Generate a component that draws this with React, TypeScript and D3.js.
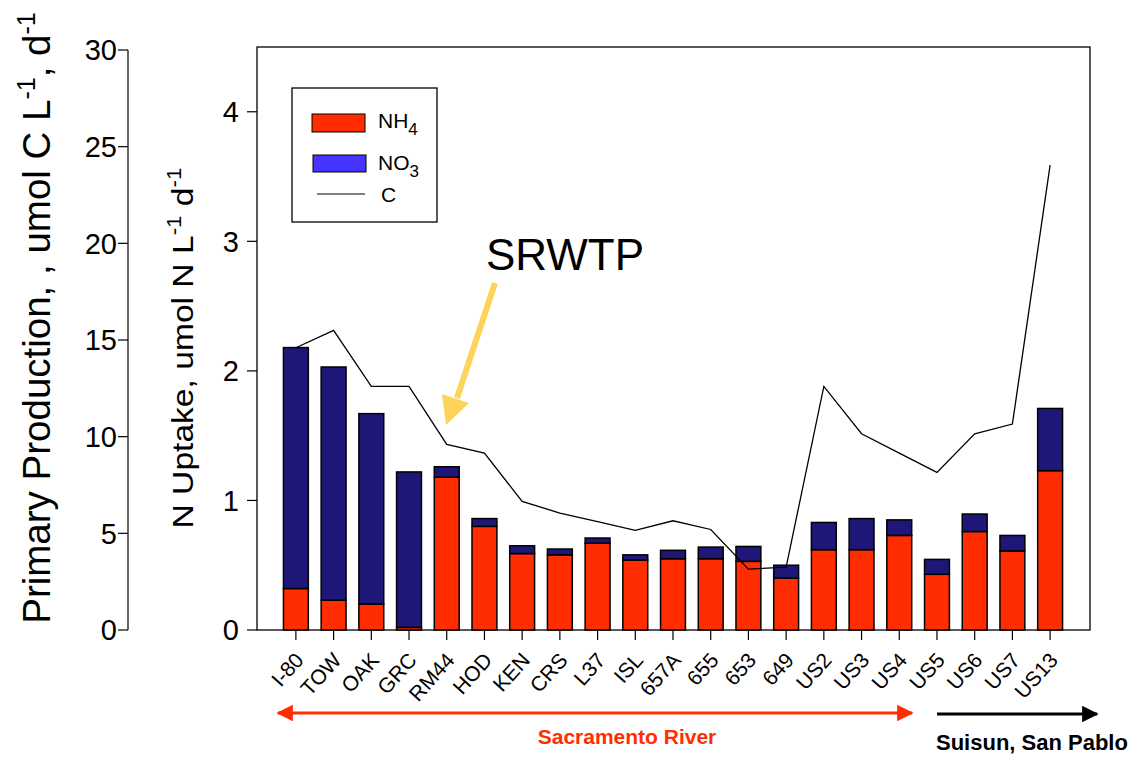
import React from "react";
import * as d3 from "d3";

const stations = ["I-80","TOW","OAK","GRC","RM44","HOD","KEN","CRS","L37","ISL","657A","655","653","649","US2","US3","US4","US5","US6","US7","US13"];
const nh4 = [0.32,0.23,0.20,0.02,1.18,0.80,0.59,0.58,0.67,0.54,0.55,0.55,0.53,0.40,0.62,0.62,0.73,0.43,0.76,0.61,1.23];
const no3 = [1.86,1.80,1.47,1.20,0.08,0.06,0.06,0.045,0.04,0.04,0.065,0.09,0.115,0.10,0.21,0.24,0.12,0.115,0.135,0.12,0.48];
const carbon = [14.6,15.5,12.6,12.6,9.6,9.15,6.65,6.05,5.6,5.15,5.65,5.2,3.15,3.25,12.6,10.15,9.15,8.15,10.15,10.65,24.05];
const nTicks = [0,1,2,3,4];
const cTicks = [0,5,10,15,20,25,30];

const RED = "#ff2d00";
const NAVY = "#1e1778";
const BLUE = "#4535ff";
const FONT = "'Liberation Sans', Arial, sans-serif";

export default function App() {
  const x = d3.scaleBand<string>().domain(stations).range([271, 1075]).paddingInner(0.34).paddingOuter(0.33);
  const y = d3.scaleLinear().domain([0, 4.5]).range([630, 47]);
  const yC = d3.scaleLinear().domain([0, 30]).range([630, 50]);
  const bw = x.bandwidth();
  const cx = (s: string) => (x(s) as number) + bw / 2;
  const line = d3.line<number>().x((_, i) => cx(stations[i])).y((d) => yC(d));

  return (
    <svg width={1139} height={757} style={{ position: "absolute", left: 0, top: 0, background: "#fff" }} fontFamily={FONT}>
      <defs>
        <marker id="redHead" viewBox="0 0 10 10" refX="9" refY="5" markerWidth="7" markerHeight="5.5" orient="auto-start-reverse" markerUnits="strokeWidth">
          <path d="M0,0 L10,5 L0,10 z" fill={RED} />
        </marker>
        <marker id="blackHead" viewBox="0 0 10 10" refX="9" refY="5" markerWidth="7" markerHeight="5.5" orient="auto" markerUnits="strokeWidth">
          <path d="M0,0 L10,5 L0,10 z" fill="#000" />
        </marker>
      </defs>

      {/* outer left axis (Primary Production) */}
      <line x1={128} x2={128} y1={yC(30)} y2={yC(0)} stroke="#000" strokeWidth={1.2} />
      {cTicks.map((t) => (
        <g key={"c" + t}>
          <line x1={118} x2={128} y1={yC(t)} y2={yC(t)} stroke="#000" strokeWidth={1.2} />
          <text x={117} y={yC(t)} dy="0.36em" textAnchor="end" fontSize={29}>{t}</text>
        </g>
      ))}
      <text transform="translate(50,318) rotate(-90)" textAnchor="middle" fontSize={38.5}>
        Primary Production, ,  umol C L<tspan dy={-15} fontSize={25}>-1</tspan><tspan dy={15}>, d</tspan><tspan dy={-15} fontSize={25}>-1</tspan>
      </text>

      {/* inner axis (N uptake) */}
      <rect x={257} y={47} width={833} height={583} fill="none" stroke="#000" strokeWidth={1.3} />
      {nTicks.map((t) => (
        <g key={"n" + t}>
          <line x1={247} x2={257} y1={y(t)} y2={y(t)} stroke="#000" strokeWidth={1.2} />
          <text x={239} y={y(t)} dy="0.36em" textAnchor="end" fontSize={29}>{t}</text>
        </g>
      ))}
      <text transform="translate(193,348) rotate(-90) scale(1.12,1)" textAnchor="middle" fontSize={30}>
        N Uptake, umol N  L<tspan dy={-12} fontSize={20}>-1</tspan><tspan dy={12}> d</tspan><tspan dy={-12} fontSize={20}>-1</tspan>
      </text>

      {/* bars */}
      {stations.map((s, i) => (
        <g key={s}>
          <rect x={x(s)} y={y(nh4[i])} width={bw} height={y(0) - y(nh4[i])} fill={RED} stroke="#000" strokeWidth={1.5} />
          <rect x={x(s)} y={y(nh4[i] + no3[i])} width={bw} height={y(nh4[i]) - y(nh4[i] + no3[i])} fill={NAVY} stroke="#000" strokeWidth={1.5} />
        </g>
      ))}

      {/* carbon line */}
      <path d={line(carbon) || ""} fill="none" stroke="#000" strokeWidth={1.3} />

      {/* x ticks & labels */}
      {stations.map((s) => (
        <g key={"t" + s}>
          <line x1={cx(s)} x2={cx(s)} y1={630} y2={640} stroke="#000" strokeWidth={1.2} />
          <text transform={`translate(${cx(s) + 9},661) rotate(-48)`} textAnchor="end" fontSize={21}>{s}</text>
        </g>
      ))}

      {/* legend */}
      <rect x={292} y={88} width={145} height={134} fill="#fff" stroke="#000" strokeWidth={1.3} />
      <rect x={312} y={114} width={53} height={18} fill={RED} stroke="#000" strokeWidth={1} />
      <text x={378} y={128} fontSize={21}>NH<tspan dy={7} fontSize={17}>4</tspan></text>
      <rect x={313} y={155} width={53} height={17} fill={BLUE} stroke="#000" strokeWidth={1} />
      <text x={378} y={170} fontSize={21}>NO<tspan dy={7} fontSize={17}>3</tspan></text>
      <line x1={317} x2={365} y1={194} y2={194} stroke="#000" strokeWidth={1.2} />
      <text x={381} y={202} fontSize={21}>C</text>

      {/* SRWTP annotation */}
      <text x={486} y={270} fontSize={44}>SRWTP</text>
      <line x1={495} y1={283} x2={457} y2={398} stroke="#fdd45a" strokeWidth={6} />
      <path d="M446,425 L442,394 L469,403 Z" fill="#fdd45a" />

      {/* bottom arrows */}
      <line x1={278} x2={912} y1={713} y2={713} stroke={RED} strokeWidth={3} markerStart="url(#redHead)" markerEnd="url(#redHead)" />
      <text x={627} y={744} textAnchor="middle" fontSize={21} fontWeight="bold" fill={RED}>Sacramento River</text>
      <line x1={937} x2={1097} y1={714} y2={714} stroke="#000" strokeWidth={3} markerEnd="url(#blackHead)" />
      <text x={936} y={750} fontSize={22} fontWeight="bold">Suisun, San Pablo</text>
    </svg>
  );
}
